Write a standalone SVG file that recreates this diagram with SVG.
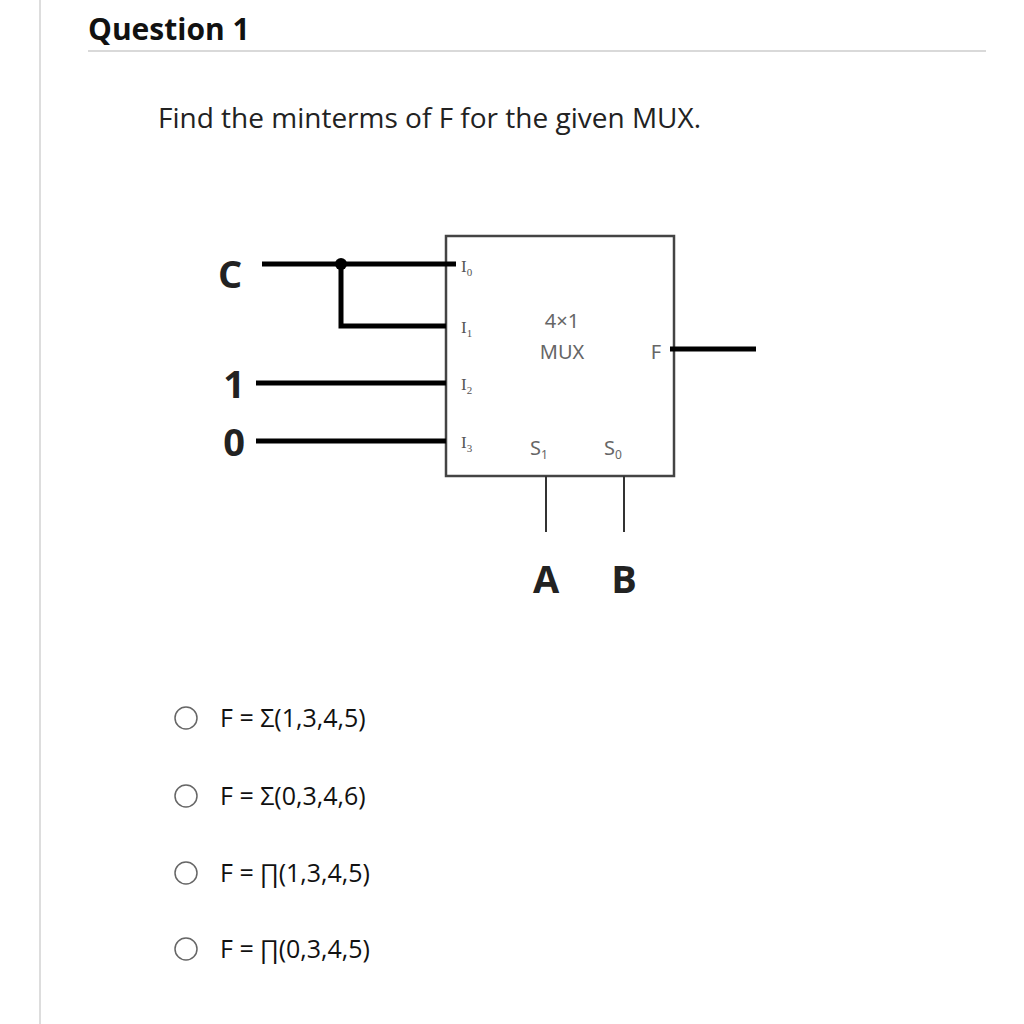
<svg xmlns="http://www.w3.org/2000/svg" width="1024" height="1024" viewBox="0 0 1024 1024">
<style>
.w{stroke:#000;stroke-width:5;fill:none}
.thin{stroke:#333;stroke-width:2;fill:none}
.pin{font-family:"Liberation Serif",serif;font-size:17px;fill:#555}
.lbl{font-family:"Noto Sans","Open Sans",sans-serif;font-size:20px;fill:#666}
.big{font-family:"Open Sans","Noto Sans",sans-serif;font-size:38px;font-weight:bold;fill:#222}
.opt{font-family:"Open Sans","Noto Sans",sans-serif;font-size:25px;fill:#111}
</style>
<rect width="1024" height="1024" fill="#fff"/>
<line x1="40" y1="0" x2="40" y2="1024" stroke="#ddd" stroke-width="2"/>
<text x="88" y="40" font-family="Open Sans,Noto Sans,sans-serif" font-size="30" font-weight="bold" fill="#111">Question 1</text>
<line x1="88" y1="51" x2="986" y2="51" stroke="#ccc" stroke-width="1.5"/>
<text x="158" y="128" font-family="Open Sans,Noto Sans,sans-serif" font-size="28" fill="#222">Find the minterms of F for the given MUX.</text>
<g id="mux">
<rect x="446" y="236" width="228" height="240" fill="#fff" stroke="#444" stroke-width="2.5"/>
<text class="pin" x="461" y="272">I<tspan font-size="11" dy="4">0</tspan></text>
<text class="pin" x="461" y="333">I<tspan font-size="11" dy="4">1</tspan></text>
<text class="pin" x="461" y="390">I<tspan font-size="11" dy="4">2</tspan></text>
<text class="pin" x="461" y="448">I<tspan font-size="11" dy="4">3</tspan></text>
<text class="lbl" x="562" y="328" text-anchor="middle">4×1</text>
<text class="lbl" x="562" y="359" text-anchor="middle">MUX</text>
<text class="lbl" x="656" y="359" text-anchor="middle">F</text>
<text class="lbl" x="530" y="455">S<tspan font-size="12" dy="4">1</tspan></text>
<text class="lbl" x="604" y="455">S<tspan font-size="12" dy="4">0</tspan></text>
</g>
<g id="inputs">
<text class="big" x="230" y="288" text-anchor="middle">C</text>
<text class="big" x="234" y="398" text-anchor="middle">1</text>
<text class="big" x="234" y="456" text-anchor="middle">0</text>
<text class="big" x="546" y="593" text-anchor="middle">A</text>
<text class="big" x="624" y="593" text-anchor="middle">B</text>
</g>
<g id="connectors">
<line class="w" x1="262" y1="264" x2="456" y2="264"/>
<polyline class="w" points="341,264 341,326 446,326"/>
<circle cx="341" cy="264" r="6" fill="#000"/>
<line class="w" x1="256" y1="383" x2="446" y2="383"/>
<line class="w" x1="256" y1="441" x2="446" y2="441"/>
<line class="w" x1="670" y1="349" x2="756" y2="349"/>
<line class="thin" x1="546" y1="476" x2="546" y2="532"/>
<line class="thin" x1="624" y1="476" x2="624" y2="532"/>
</g>
<g id="options">
<circle cx="186" cy="718" r="11" fill="#fff" stroke="#666" stroke-width="1.5"/>
<text class="opt" x="220" y="727">F = Σ(1,3,4,5)</text>
<circle cx="186" cy="796" r="11" fill="#fff" stroke="#666" stroke-width="1.5"/>
<text class="opt" x="220" y="805">F = Σ(0,3,4,6)</text>
<circle cx="186" cy="873" r="11" fill="#fff" stroke="#666" stroke-width="1.5"/>
<text class="opt" x="220" y="882">F = ∏(1,3,4,5)</text>
<circle cx="186" cy="949" r="11" fill="#fff" stroke="#666" stroke-width="1.5"/>
<text class="opt" x="220" y="958">F = ∏(0,3,4,5)</text>
</g>
</svg>
